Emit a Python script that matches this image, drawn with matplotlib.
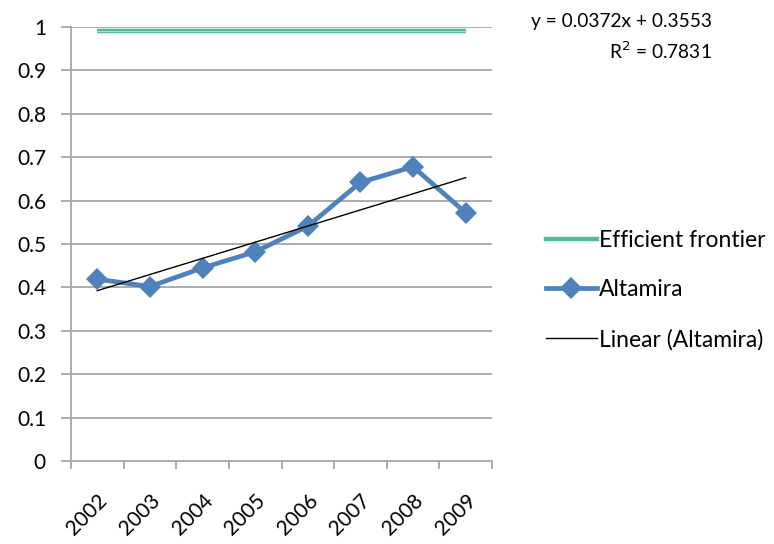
import numpy as np
import matplotlib
matplotlib.use('Agg')
import matplotlib.pyplot as plt
from matplotlib.lines import Line2D

# 年份与效率得分
years = ['2002', '2003', '2004', '2005', '2006', '2007', '2008', '2009']
altamira = [0.419, 0.402, 0.445, 0.482, 0.541, 0.642, 0.678, 0.572]
frontier = [0.99] * len(years)

# 线性趋势（Excel 给出的系数）
slope, intercept, r2 = 0.0372, 0.3553, 0.7831

plt.rcParams['font.family'] = ['Lato', 'DejaVu Sans']

fig = plt.figure(figsize=(7.74, 5.44), dpi=100)
ax = fig.add_axes([71 / 774, 1 - 461 / 544, (492 - 71) / 774, (461 - 27) / 544])

x = np.arange(len(years))
grey = '#A6A6A6'

# 水平网格线
for v in np.arange(0.1, 1.01, 0.1):
    ax.axhline(v, color=grey, lw=1.3, zorder=0)

# Efficient frontier：双线效果
ax.plot(x, frontier, color='#4DBE8F', lw=3.2, solid_capstyle='butt', zorder=2)
ax.plot(x, frontier, color='#A8E0C8', lw=0.8, solid_capstyle='butt', zorder=2)

# Altamira
ax.plot(x, altamira, color='#4F81BD', lw=3.4, marker='D', markersize=11,
        markeredgewidth=0, zorder=4)

# 趋势线
trend = slope * (x + 1) + intercept
ax.plot(x, trend, color='black', lw=1.0, zorder=5)

ax.set_xlim(-0.5, len(years) - 0.5)
ax.set_ylim(0, 1)

for s in ['top', 'right']:
    ax.spines[s].set_visible(False)
for s in ['left', 'bottom']:
    ax.spines[s].set_color(grey)
    ax.spines[s].set_linewidth(1.3)

ax.set_yticks(np.arange(0, 1.01, 0.1))
ax.set_yticklabels(['0', '0.1', '0.2', '0.3', '0.4', '0.5', '0.6', '0.7', '0.8', '0.9', '1'])
ax.tick_params(axis='y', direction='out', length=7, width=1.3, color=grey,
               labelsize=15, pad=11)

ax.set_xticks(x)
ax.set_xticklabels(years, rotation=45, ha='right', rotation_mode='anchor')
ax.tick_params(axis='x', which='major', length=0, labelsize=15, pad=21)
ax.set_xticks(np.arange(-0.5, len(years)), minor=True)
ax.tick_params(axis='x', which='minor', direction='out', length=6, width=1.3, color=grey)

# 趋势方程
fig.text(712 / 774, 1 - 22 / 544, f'y = {slope}x + {intercept}', ha='right', va='center',
         fontsize=13.8)
fig.text(712 / 774, 1 - 51 / 544, f'R$^2$ = {r2}', ha='right', va='center', fontsize=13.8)

# 图例
handles = [
    Line2D([], [], color='#4DBE8F', lw=3.2),
    Line2D([], [], color='#4F81BD', lw=3.4, marker='D', markersize=11, markeredgewidth=0),
    Line2D([], [], color='black', lw=1.0),
]
labels = ['Efficient frontier', 'Altamira', 'Linear (Altamira)']
fig.legend(handles, labels, loc='center left', bbox_to_anchor=(537 / 774, 1 - 290 / 544),
           frameon=False, fontsize=16.5, handlelength=2.2, handletextpad=0.1,
           labelspacing=1.25, borderaxespad=0)

fig.savefig('out.png', dpi=100)
